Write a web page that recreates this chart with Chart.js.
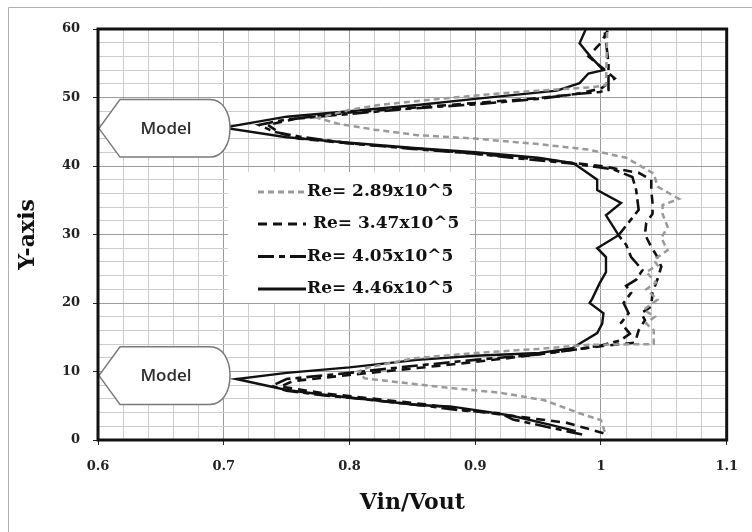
<!DOCTYPE html>
<html>
<head>
<meta charset="utf-8">
<script src="https://cdn.jsdelivr.net/npm/chart.js@4.4.1/dist/chart.umd.min.js"></script>
<style>
html, body { margin: 0; padding: 0; background: #fff; }
#wrap { position: relative; width: 752px; height: 532px; }
</style>
</head>
<body>
<div id="wrap"><canvas id="myChart" width="752" height="532"></canvas></div>
<script>
// axis tick labels
var xTickLabels = ['0.6', '0.7', '0.8', '0.9', '1', '1.1'];
var yTickLabels = ['0', '10', '20', '30', '40', '50', '60'];

// series labels
var seriesLabels = ['Re= 2.89x10^5', ' Re= 3.47x10^5', 'Re= 4.05x10^5', 'Re= 4.46x10^5'];

// Re = 2.89x10^5 (grey dashed)
var re289X = [1.003, 1.0, 0.983, 0.955, 0.92, 0.88, 0.85, 0.812, 0.807, 0.815, 0.85, 0.90, 0.95, 0.99, 1.042, 1.042, 1.036, 1.043, 1.034, 1.045, 1.036, 1.044, 1.036, 1.045, 1.042, 1.053, 1.048, 1.053, 1.049, 1.049, 1.062, 1.045, 1.042, 1.02, 0.99, 0.95, 0.90, 0.854, 0.82, 0.79, 0.775, 0.80, 0.823, 0.86, 0.907, 0.95, 0.993, 1.004, 1.005];
var re289Y = [1.2, 2.9, 3.9, 5.8, 6.9, 7.6, 8.2, 9.0, 10.0, 10.6, 11.9, 12.7, 13.3, 13.9, 14.0, 16.0, 17.0, 18.0, 19.0, 20.5, 22.0, 23.0, 24.5, 25.5, 26.3, 27.7, 29.5, 31.1, 33.0, 34.3, 35.2, 37.0, 38.9, 41.2, 42.4, 43.2, 44.0, 44.5, 45.3, 46.2, 47.0, 48.2, 48.9, 49.6, 50.4, 51.0, 51.5, 51.8, 60];

// Re = 3.47x10^5 (black short dash)
var re347X = [1.002, 0.973, 0.939, 0.90, 0.86, 0.82, 0.78, 0.745, 0.755, 0.80, 0.854, 0.90, 0.933, 0.97, 1.0, 1.027, 1.03, 1.035, 1.032, 1.04, 1.041, 1.045, 1.048, 1.044, 1.04, 1.035, 1.036, 1.041, 1.041, 1.04, 1.04, 1.03, 1.0, 0.96, 0.90, 0.85, 0.80, 0.76, 0.745, 0.735, 0.76, 0.80, 0.85, 0.90, 0.95, 0.98, 1.0, 1.011, 1.0, 0.99, 1.0, 1.006];
var re347Y = [1.0, 2.5, 3.3, 4.2, 5.2, 6.0, 6.8, 7.8, 8.6, 9.5, 10.5, 11.4, 12.1, 13.0, 13.7, 14.2, 16.0, 17.5, 18.5, 19.5, 21.5, 23.5, 25.3, 27.0, 28.2, 30.0, 31.7, 33.0, 34.6, 36.5, 38.0, 39.0, 40.0, 40.8, 41.8, 42.6, 43.3, 44.0, 44.8, 46.0, 47.0, 47.8, 48.5, 49.2, 49.9, 50.5, 51.3, 52.8, 54.5, 56.0, 58.0, 60];

// Re = 4.05x10^5 (black long-short dash)
var re405X = [0.985, 0.96, 0.93, 0.92, 0.89, 0.86, 0.82, 0.78, 0.75, 0.738, 0.75, 0.80, 0.85, 0.90, 0.95, 0.98, 1.0, 1.015, 1.023, 1.016, 1.022, 1.018, 1.024, 1.02, 1.028, 1.033, 1.024, 1.02, 1.014, 1.03, 1.028, 1.025, 1.01, 0.98, 0.94, 0.90, 0.85, 0.80, 0.76, 0.74, 0.728, 0.75, 0.80, 0.85, 0.90, 0.95, 0.98, 0.999, 1.006, 1.006, 1.003, 1.003];
var re405Y = [0.8, 1.8, 3.0, 3.9, 4.3, 5.0, 5.8, 6.5, 7.2, 7.9, 8.9, 9.8, 10.8, 11.7, 12.5, 13.2, 13.8, 14.5, 15.5, 17.1, 18.5, 20.0, 21.5, 22.5, 23.4, 24.8, 26.7, 28.5, 29.9, 33.6, 36.5, 38.4, 39.5, 40.3, 41.0, 41.8, 42.5, 43.3, 44.3, 45.0, 46.0, 46.8, 47.6, 48.4, 49.0, 49.8, 50.5, 50.8, 51.1, 55.0, 59.6, 60];

// Re = 4.46x10^5 (black solid)
var re446X = [0.98, 0.96, 0.93, 0.91, 0.88, 0.854, 0.82, 0.78, 0.75, 0.74, 0.71, 0.75, 0.80, 0.854, 0.90, 0.951, 0.977, 0.997, 1.001, 1.002, 0.991, 0.993, 0.999, 1.004, 1.004, 0.997, 1.014, 1.004, 1.016, 0.997, 0.997, 0.986, 0.978, 0.95, 0.90, 0.854, 0.80, 0.75, 0.70, 0.75, 0.80, 0.854, 0.90, 0.965, 0.983, 0.99, 1.002, 0.992, 0.983, 0.988];
var re446Y = [1.3, 2.2, 3.5, 4.1, 4.9, 5.1, 5.8, 6.6, 7.3, 7.7, 8.9, 9.8, 10.6, 11.7, 12.3, 12.7, 13.4, 15.6, 17.0, 18.5, 20.0, 20.6, 22.9, 24.5, 26.7, 28.0, 29.9, 32.8, 34.6, 36.5, 38.0, 39.4, 40.4, 41.2, 42.0, 42.6, 43.4, 44.2, 45.6, 47.2, 48.0, 48.9, 49.8, 51.0, 52.1, 53.5, 54.0, 55.9, 57.9, 60];

// "Model" callouts: centre height and half height (in y units), right end (in x units)
var modelCentres = [45.5, 9.4];
var modelHalf = 4.2;
var modelTipX = 0.6;
var modelRightX = 0.705;

function toPoints(xs, ys) {
    var pts = [];
    for (var i = 0; i < xs.length; i++) {
        pts.push({x: xs[i], y: ys[i]});
    }
    return pts;
}

function isMajor(v, step) {
    var r = v / step;
    return Math.abs(r - Math.round(r)) < 1e-6;
}

var xGrid = [];
for (var i = 0; i <= 25; i++) xGrid.push(Math.round((0.6 + i * 0.02) * 100) / 100);
var yGrid = [];
for (var j = 0; j <= 30; j++) yGrid.push(j * 2);

var serif = '"DejaVu Serif", "Liberation Serif", serif';

var framePlugin = {
    id: 'frame',
    beforeDraw: function(chart) {
        var c = chart.ctx;
        c.save();
        c.fillStyle = '#fff';
        c.fillRect(0, 0, chart.width, chart.height);
        c.strokeStyle = '#b0b0b0';
        c.lineWidth = 1;
        c.beginPath();
        c.moveTo(8.5, chart.height);
        c.lineTo(8.5, 7.5);
        c.lineTo(chart.width, 7.5);
        c.stroke();
        c.restore();
    },
    beforeDatasetsDraw: function(chart) {
        // legend box hides the grid
        var c = chart.ctx;
        c.save();
        c.fillStyle = '#fff';
        c.fillRect(228, 172, 242, 131);
        c.restore();
    },
    afterDatasetsDraw: function(chart) {
        var c = chart.ctx;
        var xs = chart.scales.x, ys = chart.scales.y;
        // model callouts
        modelCentres.forEach(function(cy) {
            var tip = xs.getPixelForValue(modelTipX);
            var xr = xs.getPixelForValue(modelRightX);
            var yc = ys.getPixelForValue(cy);
            var yt = ys.getPixelForValue(cy + modelHalf);
            var yb = ys.getPixelForValue(cy - modelHalf);
            var x1 = tip + 22;
            var x2 = xr - 20;
            c.save();
            c.beginPath();
            c.moveTo(tip + 1, yc);
            c.lineTo(x1, yt);
            c.lineTo(x2, yt);
            c.bezierCurveTo(x2 + 12, yt, xr, yt + 12, xr, yc);
            c.bezierCurveTo(xr, yb - 12, x2 + 12, yb, x2, yb);
            c.lineTo(x1, yb);
            c.closePath();
            c.fillStyle = '#fff';
            c.fill();
            c.lineWidth = 1.5;
            c.strokeStyle = '#7a7a7a';
            c.stroke();
            c.fillStyle = '#2e2e2e';
            c.font = '600 17px "Open Sans", "DejaVu Sans", sans-serif';
            c.textAlign = 'center';
            c.textBaseline = 'middle';
            c.fillText('Model', (tip + xr) / 2 + 2, yc + 1);
            c.restore();
        });

        // legend inside the plot
        var rowY = [192, 224, 256.5, 289];
        chart.data.datasets.forEach(function(ds, k) {
            var y = rowY[k];
            c.save();
            c.strokeStyle = ds.borderColor;
            c.lineWidth = ds.borderWidth + 0.5;
            c.setLineDash(ds.borderDash || []);
            c.beginPath();
            c.moveTo(258, y);
            c.lineTo(306, y);
            c.stroke();
            c.setLineDash([]);
            c.fillStyle = '#111';
            c.font = 'bold 17px ' + serif;
            c.textAlign = 'left';
            c.textBaseline = 'middle';
            c.fillText(ds.label, 307, y);
            c.restore();
        });

        // black frame round the plot
        var a = chart.chartArea;
        c.save();
        c.strokeStyle = '#111';
        c.lineWidth = 3;
        c.strokeRect(a.left, a.top, a.right - a.left, a.bottom - a.top);
        c.restore();
    }
};

var ctx = document.getElementById('myChart').getContext('2d');
var chart = new Chart(ctx, {
    type: 'scatter',
    data: {
        datasets: [{
            label: seriesLabels[0],
            data: toPoints(re289X, re289Y),
            borderColor: '#9a9a9a',
            borderWidth: 2.5,
            borderDash: [6, 4]
        }, {
            label: seriesLabels[1],
            data: toPoints(re347X, re347Y),
            borderColor: '#111',
            borderWidth: 2.6,
            borderDash: [9, 6]
        }, {
            label: seriesLabels[2],
            data: toPoints(re405X, re405Y),
            borderColor: '#111',
            borderWidth: 2.6,
            borderDash: [16, 5, 6, 5]
        }, {
            label: seriesLabels[3],
            data: toPoints(re446X, re446Y),
            borderColor: '#111',
            borderWidth: 2.4,
            borderDash: []
        }]
    },
    options: {
        responsive: false,
        animation: false,
        showLine: true,
        layout: { padding: { left: 0, right: 21, top: 29, bottom: 0 } },
        elements: {
            point: { radius: 0, hoverRadius: 0 },
            line: { tension: 0, fill: false }
        },
        plugins: {
            legend: { display: false },
            tooltip: { enabled: false }
        },
        scales: {
            x: {
                type: 'linear',
                min: 0.6,
                max: 1.1,
                afterBuildTicks: function(s) { s.ticks = xGrid.map(function(v) { return {value: v}; }); },
                afterFit: function(s) { s.height = 92; },
                border: { display: false },
                grid: {
                    color: function(c) { return c.tick && isMajor(c.tick.value, 0.1) ? '#9c9c9c' : '#cdcdcd'; },
                    tickColor: function(c) { return c.tick && isMajor(c.tick.value, 0.1) ? '#222' : 'rgba(0,0,0,0)'; },
                    tickLength: 5,
                    lineWidth: 1
                },
                ticks: {
                    autoSkip: false,
                    maxRotation: 0,
                    padding: 14,
                    color: '#222',
                    font: { family: serif, size: 13, weight: 'bold' },
                    callback: function(v) {
                        if (!isMajor(v, 0.1)) return '';
                        return xTickLabels[Math.round((v - 0.6) * 10)];
                    }
                },
                title: {
                    display: true,
                    text: 'Vin/Vout',
                    color: '#111',
                    font: { family: serif, size: 22, weight: 'bold' },
                    padding: { top: 0, bottom: 16 }
                }
            },
            y: {
                type: 'linear',
                min: 0,
                max: 60,
                afterBuildTicks: function(s) { s.ticks = yGrid.map(function(v) { return {value: v}; }); },
                afterFit: function(s) { s.width = 98; },
                border: { display: false },
                grid: {
                    color: function(c) { return c.tick && isMajor(c.tick.value, 10) ? '#9c9c9c' : '#cdcdcd'; },
                    tickColor: function(c) { return c.tick && isMajor(c.tick.value, 10) ? '#222' : 'rgba(0,0,0,0)'; },
                    tickLength: 5,
                    lineWidth: 1
                },
                ticks: {
                    autoSkip: false,
                    padding: 13,
                    color: '#222',
                    font: { family: serif, size: 13, weight: 'bold' },
                    callback: function(v) {
                        if (!isMajor(v, 10)) return '';
                        return yTickLabels[Math.round(v / 10)];
                    }
                },
                title: {
                    display: true,
                    text: 'Y-axis',
                    color: '#111',
                    font: { family: serif, size: 22, weight: 'bold' },
                    padding: { top: 15, bottom: 0 }
                }
            }
        }
    },
    plugins: [framePlugin]
});
</script>
</body>
</html>
